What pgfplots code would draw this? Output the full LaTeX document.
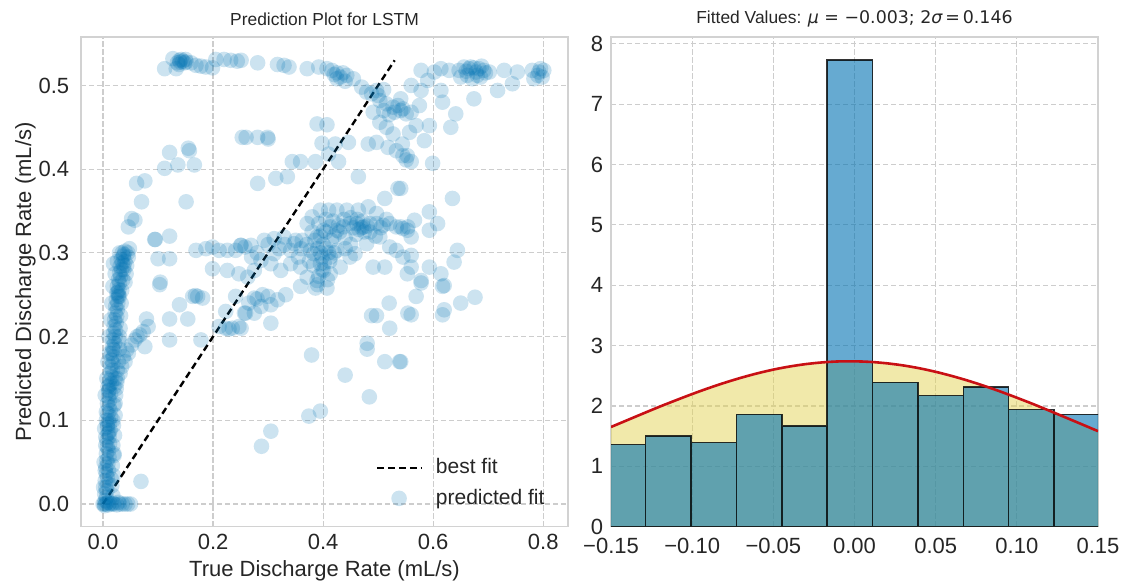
\documentclass[border=0pt]{standalone}
\usepackage{pgfplots}
\pgfplotsset{compat=1.18}
\usepackage{fontspec}
\setmainfont{Liberation Sans}
\newfontfamily\djv{DejaVu Sans}
\definecolor{scat}{RGB}{0,114,178}
\definecolor{gridc}{RGB}{205,205,205}
\definecolor{framec}{RGB}{210,210,210}
\definecolor{txt}{RGB}{38,38,38}
\definecolor{histblue}{RGB}{0,114,178}
\definecolor{yel}{RGB}{227,211,85}
\definecolor{redc}{RGB}{200,16,20}

\pgfplotstableread{
x y
0.002 0.000
0.004 0.004
0.006 0.008
0.003 0.012
0.007 0.016
0.005 0.020
0.009 0.024
0.004 0.028
0.008 0.032
0.006 0.036
0.010 0.040
0.005 0.044
0.009 0.048
0.007 0.052
0.011 0.056
0.006 0.060
0.010 0.064
0.008 0.068
0.012 0.072
0.007 0.076
0.011 0.080
0.009 0.084
0.013 0.088
0.008 0.092
0.012 0.096
0.010 0.100
0.014 0.104
0.009 0.108
0.013 0.112
0.011 0.116
0.008 0.120
0.012 0.124
0.010 0.128
0.014 0.132
0.011 0.136
0.009 0.140
0.015 0.144
0.012 0.148
0.016 0.152
0.013 0.156
0.017 0.160
0.014 0.164
0.018 0.168
0.015 0.172
0.019 0.176
0.016 0.180
0.020 0.184
0.017 0.188
0.021 0.192
0.018 0.196
0.022 0.200
0.019 0.204
0.023 0.208
0.020 0.212
0.024 0.216
0.021 0.220
0.025 0.224
0.022 0.228
0.026 0.232
0.023 0.236
0.027 0.240
0.024 0.244
0.028 0.248
0.025 0.252
0.029 0.256
0.026 0.260
0.030 0.264
0.028 0.268
0.032 0.272
0.030 0.276
0.034 0.280
0.031 0.284
0.035 0.288
0.033 0.292
0.037 0.296
0.035 0.300
0.040 0.302
0.038 0.298
0.010 0.135
0.012 0.142
0.008 0.095
0.011 0.085
0.018 0.185
0.028 0.250
0.030 0.248
0.027 0.253
0.025 0.145
0.020 0.140
0.022 0.150
0.001 0.020
0.002 0.050
0.003 0.090
0.004 0.130
0.006 0.110
0.005 0.070
0.020 0.060
0.018 0.100
0.022 0.120
0.026 0.160
0.030 0.200
0.015 0.030
0.018 0.010
0.016 0.022
0.019 0.034
0.017 0.046
0.020 0.058
0.018 0.070
0.021 0.082
0.019 0.094
0.022 0.106
0.020 0.118
0.023 0.130
0.024 0.138
0.026 0.150
0.028 0.170
0.030 0.185
0.029 0.195
0.031 0.210
0.032 0.225
0.033 0.240
0.034 0.255
0.036 0.268
0.038 0.285
0.012 0.180
0.011 0.200
0.014 0.220
0.016 0.240
0.018 0.260
0.022 0.275
0.026 0.290
0.030 0.300
0.004 0.040
0.005 0.080
0.006 0.100
0.007 0.150
0.009 0.170
0.000 0.000
0.005 0.000
0.010 -0.001
0.015 0.000
0.020 0.000
0.025 -0.001
0.030 0.000
0.035 0.000
0.040 0.000
0.045 0.000
0.050 0.000
0.008 0.002
0.018 0.001
0.028 0.002
0.003 -0.002
0.012 0.001
0.069 0.027
0.037 0.176
0.043 0.184
0.052 0.190
0.058 0.196
0.067 0.202
0.073 0.206
0.082 0.212
0.079 0.221
0.034 0.164
0.031 0.156
0.076 0.188
0.046 0.180
0.040 0.170
0.062 0.200
0.103 0.262
0.104 0.265
0.139 0.238
0.163 0.248
0.172 0.248
0.181 0.246
0.168 0.249
0.121 0.221
0.154 0.221
0.121 0.196
0.178 0.196
0.211 0.212
0.223 0.210
0.235 0.210
0.247 0.212
0.229 0.209
0.223 0.230
0.241 0.248
0.259 0.228
0.265 0.240
0.280 0.245
0.290 0.250
0.300 0.248
0.121 0.420
0.157 0.422
0.155 0.425
0.112 0.401
0.136 0.405
0.166 0.405
0.061 0.383
0.076 0.386
0.070 0.361
0.151 0.361
0.052 0.341
0.058 0.339
0.046 0.331
0.094 0.316
0.095 0.316
0.121 0.320
0.100 0.293
0.121 0.293
0.019 0.287
0.040 0.290
0.043 0.285
0.038 0.280
0.045 0.300
0.048 0.305
0.042 0.275
0.040 0.265
0.046 0.295
0.112 0.520
0.127 0.532
0.133 0.520
0.139 0.530
0.145 0.529
0.151 0.528
0.160 0.527
0.169 0.524
0.178 0.523
0.187 0.522
0.199 0.521
0.205 0.531
0.220 0.531
0.232 0.530
0.244 0.529
0.140 0.528
0.148 0.527
0.142 0.531
0.135 0.527
0.138 0.525
0.150 0.531
0.253 0.438
0.169 0.303
0.187 0.305
0.199 0.307
0.211 0.303
0.226 0.303
0.241 0.303
0.250 0.309
0.258 0.307
0.199 0.281
0.226 0.279
0.247 0.275
0.251 0.530
0.281 0.527
0.317 0.525
0.329 0.524
0.338 0.522
0.371 0.520
0.392 0.522
0.407 0.520
0.416 0.518
0.425 0.515
0.431 0.510
0.443 0.512
0.455 0.508
0.470 0.498
0.479 0.492
0.488 0.490
0.497 0.494
0.503 0.482
0.515 0.478
0.527 0.474
0.536 0.476
0.545 0.472
0.551 0.466
0.491 0.468
0.503 0.456
0.515 0.450
0.527 0.442
0.482 0.430
0.497 0.432
0.518 0.426
0.533 0.422
0.545 0.416
0.551 0.411
0.420 0.513
0.436 0.515
0.510 0.470
0.520 0.465
0.530 0.468
0.425 0.508
0.440 0.505
0.500 0.488
0.510 0.495
0.389 0.454
0.407 0.453
0.260 0.438
0.281 0.438
0.299 0.438
0.300 0.436
0.398 0.431
0.422 0.430
0.446 0.432
0.410 0.418
0.428 0.409
0.344 0.409
0.359 0.409
0.386 0.409
0.281 0.383
0.314 0.389
0.335 0.391
0.464 0.391
0.536 0.377
0.512 0.365
0.251 0.309
0.269 0.309
0.293 0.315
0.311 0.317
0.329 0.319
0.347 0.311
0.362 0.315
0.371 0.335
0.380 0.343
0.395 0.351
0.410 0.351
0.425 0.351
0.389 0.319
0.401 0.327
0.413 0.331
0.425 0.327
0.437 0.331
0.449 0.335
0.461 0.335
0.473 0.331
0.485 0.335
0.497 0.335
0.509 0.333
0.521 0.335
0.533 0.331
0.545 0.329
0.554 0.331
0.443 0.351
0.464 0.351
0.482 0.355
0.497 0.347
0.479 0.311
0.503 0.319
0.521 0.307
0.533 0.303
0.545 0.295
0.383 0.299
0.395 0.287
0.401 0.279
0.389 0.267
0.371 0.271
0.359 0.283
0.341 0.287
0.323 0.279
0.305 0.287
0.287 0.291
0.275 0.279
0.263 0.271
0.413 0.275
0.431 0.283
0.449 0.295
0.458 0.299
0.491 0.283
0.512 0.283
0.413 0.295
0.425 0.303
0.377 0.303
0.341 0.303
0.311 0.299
0.395 0.320
0.405 0.325
0.400 0.310
0.410 0.300
0.390 0.305
0.415 0.315
0.398 0.295
0.402 0.288
0.385 0.315
0.470 0.330
0.475 0.325
0.465 0.328
0.480 0.332
0.460 0.322
0.455 0.330
0.420 0.320
0.430 0.325
0.440 0.318
0.380 0.325
0.392 0.335
0.405 0.340
0.418 0.338
0.428 0.333
0.438 0.340
0.450 0.342
0.462 0.340
0.472 0.338
0.485 0.325
0.495 0.320
0.505 0.330
0.515 0.340
0.395 0.300
0.405 0.305
0.412 0.290
0.398 0.280
0.392 0.272
0.408 0.268
0.420 0.300
0.370 0.310
0.360 0.305
0.350 0.315
0.330 0.310
0.320 0.305
0.300 0.310
0.280 0.300
0.270 0.295
0.390 0.262
0.382 0.285
0.375 0.290
0.440 0.305
0.450 0.310
0.355 0.295
0.578 0.518
0.602 0.516
0.614 0.520
0.629 0.518
0.647 0.518
0.656 0.522
0.665 0.520
0.674 0.521
0.683 0.520
0.692 0.518
0.702 0.516
0.650 0.510
0.671 0.508
0.686 0.510
0.660 0.517
0.668 0.522
0.678 0.516
0.688 0.523
0.695 0.515
0.662 0.512
0.680 0.512
0.729 0.518
0.753 0.516
0.780 0.518
0.792 0.516
0.801 0.518
0.798 0.510
0.790 0.512
0.795 0.520
0.744 0.502
0.717 0.494
0.674 0.484
0.783 0.508
0.541 0.484
0.560 0.500
0.578 0.494
0.590 0.506
0.614 0.494
0.617 0.480
0.575 0.476
0.541 0.470
0.560 0.468
0.569 0.452
0.593 0.452
0.641 0.466
0.632 0.450
0.557 0.444
0.584 0.434
0.544 0.430
0.553 0.416
0.560 0.409
0.599 0.407
0.541 0.377
0.635 0.365
0.541 0.331
0.553 0.327
0.566 0.339
0.560 0.319
0.593 0.349
0.608 0.335
0.593 0.327
0.644 0.303
0.638 0.289
0.560 0.297
0.560 0.283
0.593 0.283
0.614 0.275
0.578 0.267
0.620 0.261
0.553 0.275
0.275 0.246
0.287 0.236
0.305 0.238
0.317 0.244
0.332 0.250
0.257 0.228
0.275 0.228
0.305 0.216
0.359 0.260
0.386 0.258
0.407 0.258
0.251 0.210
0.379 0.178
0.395 0.111
0.374 0.105
0.305 0.087
0.288 0.069
0.440 0.154
0.484 0.128
0.480 0.192
0.480 0.185
0.488 0.225
0.497 0.225
0.512 0.170
0.539 0.170
0.521 0.210
0.520 0.240
0.554 0.228
0.569 0.248
0.560 0.226
0.578 0.264
0.617 0.260
0.620 0.232
0.617 0.226
0.650 0.240
0.676 0.247
0.541 0.170
}\scatdata

\pgfplotsset{
 mystyle/.style={
  scale only axis, width=243.5pt, height=244.7pt,
  axis line style={framec, line width=0.8pt},
  grid=major,
  major grid style={gridc, dash pattern=on 2.6pt off 1.4pt, line width=0.6pt},
  major tick length=0pt,
  tick label style={font=\fontsize{11}{13}\selectfont, text=txt, inner sep=1pt},
  /pgf/number format/assume math mode=true,
  label style={font=\fontsize{11}{13}\selectfont, text=txt},
  title style={font=\fontsize{8.7}{10}\selectfont, text=txt},
  legend image code/.code={\draw[mark repeat=2,mark phase=2,##1] plot coordinates {(0cm,0cm) (0.38cm,0cm) (0.76cm,0cm)};},
 }
}

\begin{document}
\begin{tikzpicture}
\useasboundingbox (0,0) rectangle (564pt,-293pt);

\begin{axis}[mystyle, at={(40.5pt,-263.3pt)}, anchor=south west,
  xmin=-0.04, xmax=0.845, ymin=-0.027, ymax=0.5576,
  xtick={0,0.2,0.4,0.6,0.8}, xticklabels={0.0,0.2,0.4,0.6,0.8},
  ytick={0,0.1,0.2,0.3,0.4,0.5}, yticklabels={0.0,0.1,0.2,0.3,0.4,0.5},
  yticklabel style={xshift=-4.7pt},
  xticklabel style={yshift=-2.7pt},
  xlabel={True Discharge Rate (mL/s)},
  ylabel={Predicted Discharge Rate (mL/s)},
  xlabel style={at={(axis description cs:0.5,-0.09)}, anchor=center},
  ylabel style={at={(axis description cs:-0.114,0.5)}, anchor=center},
  title={Prediction Plot for LSTM},
  title style={at={(axis description cs:0.5,1.012)}, anchor=center},
  legend style={at={(0.973,0.022)}, anchor=south east, draw=none, fill=none,
    font=\fontsize{10.5}{12.5}\selectfont, text=txt, row sep=2.2pt, column sep=5pt},
  legend cell align=left,
  reverse legend,
]
\addplot[only marks, mark=*, mark size=3.9pt,
  mark options={fill=scat, draw=scat, fill opacity=0.2, draw opacity=0, line width=0pt}]
  table[x=x, y=y] {\scatdata};
\addlegendentry{predicted fit}
\addplot[black, line width=1.2pt, dash pattern=on 3.4pt off 2pt] coordinates {(0,0) (0.53,0.53)};
\addlegendentry{best fit}
\end{axis}

\begin{axis}[mystyle, at={(305.5pt,-263.3pt)}, anchor=south west,
  xmin=-0.15, xmax=0.15, ymin=0, ymax=8.11,
  xtick={-0.15,-0.10,-0.05,0,0.05,0.10,0.15},
  xticklabels={−0.15,−0.10,−0.05,0.00,0.05,0.10,0.15},
  xticklabel style={yshift=-4.7pt},
  yticklabel style={xshift=-2.7pt},
  ytick={0,1,2,3,4,5,6,7,8},
  title={Fitted Values: {\djv\itshape μ}{\djv\ =\ −0.003; 2}{\djv\itshape σ}{\djv\,=\,0.146}},
  title style={at={(axis description cs:0.5,1.012)}, anchor=center},
]
\addplot[draw=none, fill=yel, fill opacity=0.5] coordinates {
(-0.15,1.651) (-0.14,1.764) (-0.13,1.877) (-0.12,1.988) (-0.11,2.094)
(-0.10,2.197) (-0.09,2.294) (-0.08,2.384) (-0.07,2.466) (-0.06,2.539)
(-0.05,2.602) (-0.04,2.653) (-0.03,2.693) (-0.02,2.721) (-0.01,2.737)
(0.00,2.739) (0.01,2.729) (0.02,2.706) (0.03,2.671) (0.04,2.624)
(0.05,2.565) (0.06,2.496) (0.07,2.418) (0.08,2.331) (0.09,2.237)
(0.10,2.136) (0.11,2.031) (0.12,1.921) (0.13,1.809) (0.14,1.696) (0.15,1.582)
} \closedcycle;
\addplot[ybar interval, fill=histblue, fill opacity=0.6, draw=black, draw opacity=0.8, line width=0.75pt] coordinates {
(-0.1566,1.36) (-0.1287,1.50) (-0.1007,1.39) (-0.0728,1.86) (-0.0448,1.67)
(-0.0169,7.73) (0.0111,2.39) (0.0390,2.17) (0.0670,2.31) (0.0949,1.94)
(0.1228,1.86) (0.1508,0)
};
\addplot[redc, line width=1.3pt, smooth] coordinates {
(-0.15,1.651) (-0.14,1.764) (-0.13,1.877) (-0.12,1.988) (-0.11,2.094)
(-0.10,2.197) (-0.09,2.294) (-0.08,2.384) (-0.07,2.466) (-0.06,2.539)
(-0.05,2.602) (-0.04,2.653) (-0.03,2.693) (-0.02,2.721) (-0.01,2.737)
(0.00,2.739) (0.01,2.729) (0.02,2.706) (0.03,2.671) (0.04,2.624)
(0.05,2.565) (0.06,2.496) (0.07,2.418) (0.08,2.331) (0.09,2.237)
(0.10,2.136) (0.11,2.031) (0.12,1.921) (0.13,1.809) (0.14,1.696) (0.15,1.582)
};
\end{axis}
\end{tikzpicture}
\end{document}
